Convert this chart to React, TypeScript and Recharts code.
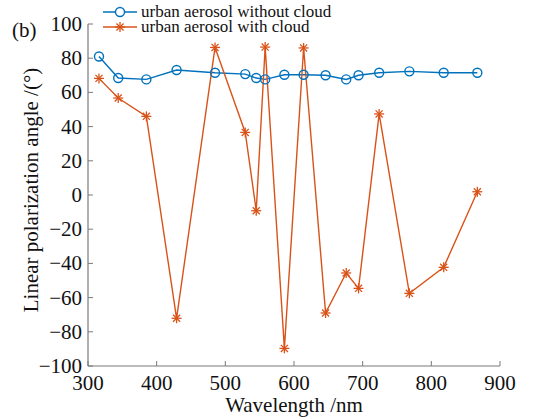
import React from "react";
import { LineChart, Line, XAxis, YAxis } from "recharts";

const wavelengths = [316, 344, 385, 429, 485, 529, 545, 558, 586, 614, 646, 676, 694, 724, 768, 818, 867];
const withoutCloud = [81, 68.4, 67.6, 73.1, 71.5, 70.7, 68.4, 67.6, 70.3, 70.3, 70, 67.6, 70, 71.5, 72.3, 71.5, 71.5];
const withCloud = [68.2, 56.7, 46, -72.1, 86.3, 36.6, -9.2, 86.5, -89.7, 86, -69, -45.6, -54.6, 47.4, -57.5, -42.3, 1.9];
const xTicks = [300, 400, 500, 600, 700, 800, 900];
const yTicks = [-100, -80, -60, -40, -20, 0, 20, 40, 60, 80, 100];
const seriesNames = ["urban aerosol without cloud", "urban aerosol with cloud"];

const data = wavelengths.map((w, i) => ({ w, a: withoutCloud[i], b: withCloud[i] }));

const BLUE = "#0072BD";
const RED = "#D95319";
const AXIS = "#7a7a7a";
const FONT = "'Liberation Serif', 'DejaVu Serif', serif";
const TS = { fontFamily: FONT };

const PLOT_LEFT = 88;
const PLOT_BOTTOM = 366;

const fmt = (v: number) => (v < 0 ? "\u2212" + Math.abs(v) : String(v));

const YTick = (props: any) => {
  const { y, payload } = props;
  return (
    <g>
      <line x1={PLOT_LEFT} x2={PLOT_LEFT + 5} y1={y} y2={y} stroke={AXIS} strokeWidth={1} />
      <text x={PLOT_LEFT - 6} y={y} dy={7} textAnchor="end" style={TS} fontSize={21} fill="#111">
        {fmt(payload.value)}
      </text>
    </g>
  );
};

const XTick = (props: any) => {
  const { x, payload } = props;
  return (
    <g>
      <line x1={x} x2={x} y1={PLOT_BOTTOM} y2={PLOT_BOTTOM - 5} stroke={AXIS} strokeWidth={1} />
      <text x={x} y={PLOT_BOTTOM + 24} textAnchor="middle" style={TS} fontSize={21} fill="#111">
        {payload.value}
      </text>
    </g>
  );
};

const CircleDot = (props: any) => {
  const { cx, cy, key } = props;
  if (cx == null || cy == null) return <g key={key} />;
  return <circle key={key} cx={cx} cy={cy} r={4.5} fill="none" stroke={BLUE} strokeWidth={1.4} />;
};

const Asterisk = ({ cx, cy, r = 5, color = RED }: any) => {
  const d = r * 0.707;
  return (
    <g stroke={color} strokeWidth={1.3}>
      <line x1={cx - r} x2={cx + r} y1={cy} y2={cy} />
      <line x1={cx} x2={cx} y1={cy - r} y2={cy + r} />
      <line x1={cx - d} x2={cx + d} y1={cy - d} y2={cy + d} />
      <line x1={cx - d} x2={cx + d} y1={cy + d} y2={cy - d} />
    </g>
  );
};

const StarDot = (props: any) => {
  const { cx, cy, key } = props;
  if (cx == null || cy == null) return <g key={key} />;
  return (
    <g key={key}>
      <Asterisk cx={cx} cy={cy} />
    </g>
  );
};

const XLabel = () => (
  <text x={294} y={412} textAnchor="middle" style={TS} fontSize={21} fill="#111">
    Wavelength /nm
  </text>
);

const YLabel = () => (
  <text
    x={38}
    y={190}
    transform="rotate(-90 38 190)"
    textAnchor="middle"
    style={TS}
    fontSize={21}
    fill="#111"
  >
    Linear polarization angle /(°)
  </text>
);

export default function App() {
  return (
    <div style={{ position: "absolute", left: 0, top: 0, width: 540, height: 417, background: "#fff" }}>
      <LineChart width={540} height={417} data={data} margin={{ top: 24, right: 40, bottom: 21, left: 8 }}>
        <XAxis
          dataKey="w"
          type="number"
          domain={[300, 900]}
          ticks={xTicks}
          tick={<XTick />}
          tickLine={false}
          axisLine={{ stroke: AXIS, strokeWidth: 1.2 }}
          height={30}
          interval={0}
          label={<XLabel />}
        />
        <YAxis
          type="number"
          domain={[-100, 100]}
          ticks={yTicks}
          tick={<YTick />}
          tickLine={false}
          axisLine={{ stroke: AXIS, strokeWidth: 1.2 }}
          width={80}
          interval={0}
          label={<YLabel />}
        />
        <Line dataKey="a" stroke={BLUE} strokeWidth={1.4} dot={<CircleDot />} isAnimationActive={false} />
        <Line dataKey="b" stroke={RED} strokeWidth={1.4} dot={<StarDot />} isAnimationActive={false} />
      </LineChart>
      <svg width={540} height={50} style={{ position: "absolute", left: 0, top: 0, display: "block", overflow: "visible" }}>
        <text x={12} y={37} style={TS} fontSize={21} fill="#111">(b)</text>
        <line x1={103} x2={137} y1={12} y2={12} stroke={BLUE} strokeWidth={1.4} />
        <circle cx={120} cy={12} r={4.5} fill="white" stroke={BLUE} strokeWidth={1.4} />
        <text x={141} y={17} style={TS} fontSize={17} fill="#111">{seriesNames[0]}</text>
        <line x1={103} x2={137} y1={27} y2={27} stroke={RED} strokeWidth={1.4} />
        <Asterisk cx={120} cy={27} />
        <text x={141} y={32} style={TS} fontSize={17} fill="#111">{seriesNames[1]}</text>
      </svg>
    </div>
  );
}
